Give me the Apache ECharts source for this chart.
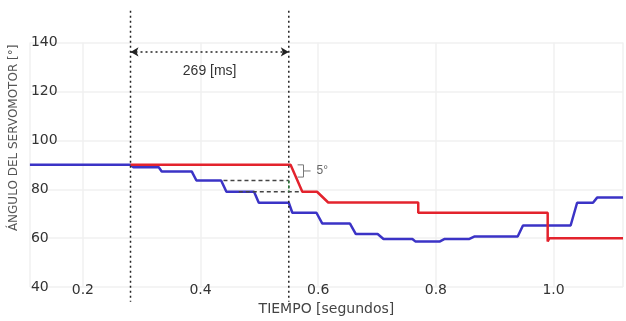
<!DOCTYPE html>
<html>
<head>
<meta charset="utf-8">
<script src="https://cdn.jsdelivr.net/npm/echarts@6/dist/echarts.min.js"></script>
<style>
  html, body { margin: 0; padding: 0; background: #fff; }
  #chart { width: 626px; height: 321px; }
</style>
</head>
<body>
<div id="chart"></div>
<script>
// blue trace (seconds / degrees)
const blueTime = [0.11, 0.281, 0.286, 0.329, 0.334, 0.385, 0.393, 0.435, 0.444, 0.491, 0.499, 0.550, 0.556,
  0.597, 0.607, 0.654, 0.664, 0.701, 0.711, 0.760, 0.765, 0.807, 0.815, 0.857, 0.866, 0.939, 0.948,
  1.029, 1.040, 1.067, 1.074, 1.118]
const blueAngle = [90, 90, 89, 89, 87.3, 87.3, 83.6, 83.6, 79, 79, 74.5, 74.5, 70.4,
  70.4, 66, 66, 61.7, 61.7, 59.7, 59.7, 58.7, 58.7, 59.7, 59.7, 60.7, 60.7, 65.2,
  65.2, 74.5, 74.5, 76.6, 76.6]

// red trace
const redTime = [0.281, 0.553, 0.573, 0.598, 0.617, 0.770, 0.770, 0.990, 0.990, 0.993, 1.118]
const redAngle = [90, 90, 79, 79, 74.6, 74.6, 70.4, 70.4, 58.7, 60, 60]

// annotations
const markTimes = [0.281, 0.550]
const markSpan = [153, 34]
const spanAngle = 136.2
const spanText = '269 [ms]'
const guideUpperTime = [0.439, 0.550]
const guideUpperAngle = 83.6
const guideLowerTime = [0.465, 0.570]
const guideLowerAngle = 79
const bracketTime = [0.565, 0.575, 0.575, 0.565]
const bracketAngle = [90, 90, 85, 85]
const bracketTickTime = [0.575, 0.587]
const bracketTickAngle = 87.5
const bracketText = '5°'

const pairs = (xs, ys) => xs.map((x, i) => [x, ys[i]])
const flat = (xs, y) => xs.map(x => [x, y])

const chart = echarts.init(document.getElementById('chart'))

const dotted = { color: '#222', width: 1.5, type: [2, 3] }
const dashed = { color: '#444', width: 1.5, type: [4, 3] }

const annoLine = (data, style, extra) => Object.assign({
  type: 'line',
  data,
  showSymbol: false,
  symbol: 'none',
  clip: false,
  silent: true,
  lineStyle: style,
  z: 5,
}, extra || {})

const option = {
  animation: false,
  grid: { left: 27, right: 0, top: 42.6, bottom: 32 },
  xAxis: {
    type: 'value',
    min: 0.11,
    max: 1.118,
    splitNumber: 5,
    name: 'TIEMPO [segundos]',
    nameLocation: 'middle',
    nameGap: 12,
    nameTextStyle: { color: '#444', fontSize: 14, fontFamily: 'DejaVu Sans' },
    axisLine: { show: false },
    axisTick: { show: false },
    axisLabel: {
      margin: -4,
      color: '#333',
      fontSize: 14,
      fontFamily: 'DejaVu Sans',
      formatter: v => Math.abs(v * 5 - Math.round(v * 5)) < 1e-6 ? v.toFixed(1) : '',
    },
    splitLine: { lineStyle: { color: '#f1f1f1', width: 1.5 } },
  },
  yAxis: {
    type: 'value',
    min: 40,
    max: 140,
    interval: 20,
    name: 'ÁNGULO DEL SERVOMOTOR [°]',
    nameLocation: 'middle',
    nameGap: 5,
    nameTextStyle: { color: '#555', fontSize: 12, fontFamily: 'DejaVu Sans', padding: [0, 0, 0, 54] },
    axisLine: { show: false },
    axisTick: { show: false },
    axisLabel: {
      inside: true,
      margin: 1,
      color: '#333',
      fontSize: 14,
      fontFamily: 'DejaVu Sans',
    },
    splitLine: { lineStyle: { color: '#f1f1f1', width: 1.5 } },
  },
  series: [
    {
      type: 'line',
      data: pairs(blueTime, blueAngle),
      showSymbol: false,
      lineStyle: { color: '#3b33c6', width: 2.5 },
      z: 3,
    },
    {
      type: 'line',
      data: pairs(redTime, redAngle),
      showSymbol: false,
      lineStyle: { color: '#e3232d', width: 2.5 },
      z: 4,
    },
    ...markTimes.map(t => annoLine(flat(markSpan, 0).map(p => [t, p[0]]), dotted)),
    annoLine([], dotted, {
      markLine: {
        silent: true,
        symbol: ['arrow', 'arrow'],
        symbolSize: [7, 8],
        lineStyle: dotted,
        label: {
          show: true,
          position: 'insideMiddleBottom',
          distance: 12,
          formatter: spanText,
          color: '#333',
          fontSize: 14,
          fontFamily: 'Liberation Sans',
        },
        data: [[{ coord: [markTimes[0], spanAngle] }, { coord: [markTimes[1], spanAngle] }]],
      },
    }),
    annoLine(flat(guideUpperTime, guideUpperAngle), dashed),
    annoLine(flat(guideLowerTime, guideLowerAngle), dashed),
    annoLine([[markTimes[1], guideUpperAngle], [markTimes[1], guideLowerAngle]], { color: '#2f7a3c', width: 1.5, type: [3, 2] }, { z: 6 }),
    annoLine(pairs(bracketTime, bracketAngle), { color: '#777', width: 1 }),
    annoLine(flat(bracketTickTime, bracketTickAngle), { color: '#777', width: 1 }, {
      endLabel: {
        show: true,
        formatter: bracketText,
        distance: 6,
        color: '#666',
        fontSize: 12,
        fontFamily: 'Liberation Sans',
      },
    }),
  ],
}

chart.setOption(option)
</script>
</body>
</html>
